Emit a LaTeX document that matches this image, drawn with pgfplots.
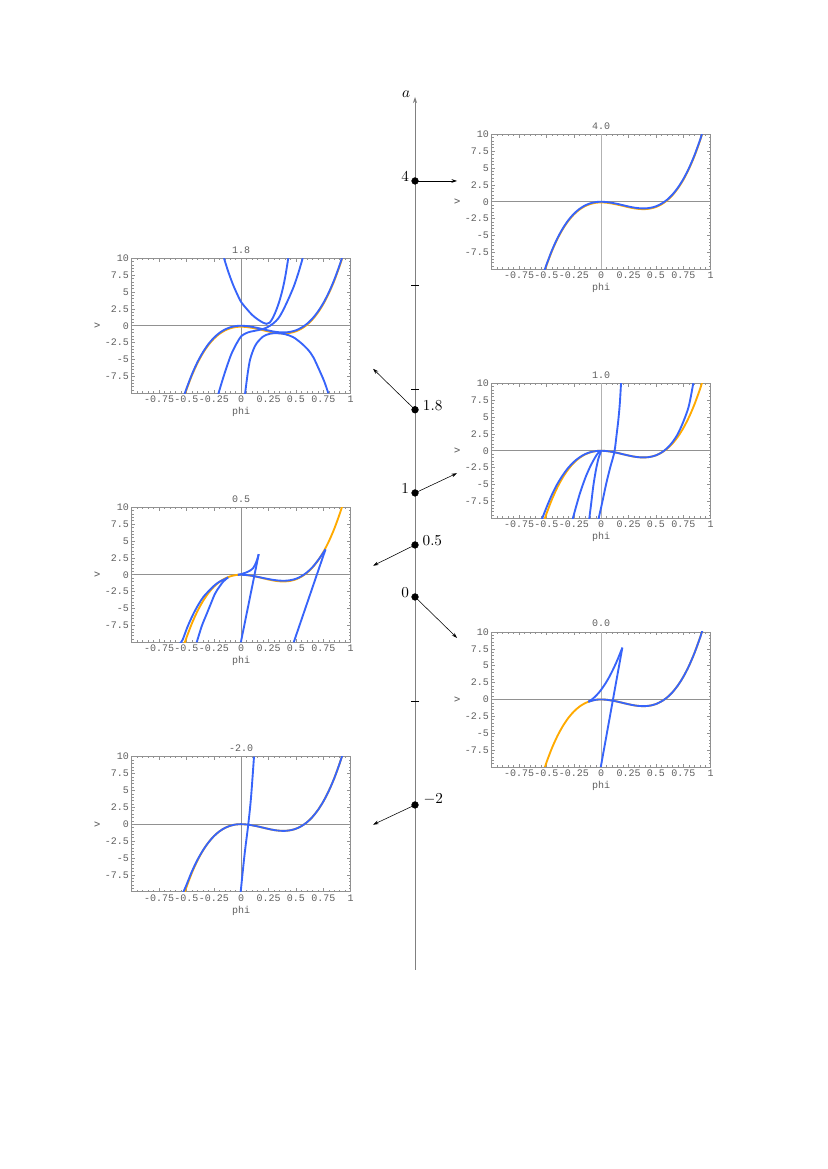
\documentclass[border=0pt]{standalone}
\usepackage{fontspec}
\setmonofont{Liberation Mono}
\usepackage{pgfplots}
\usepackage{pgfplotstable}
\pgfplotsset{compat=1.18}
\usetikzlibrary{arrows.meta}

\definecolor{mblue}{RGB}{55,100,250}
\definecolor{morange}{RGB}{255,170,0}
\definecolor{fgray}{RGB}{145,145,145}
\definecolor{lgray}{RGB}{95,95,95}

% the potential that all six panels share
\pgfplotstableread{
phi v
-0.53 -10.77
-0.50 -9.33
-0.45 -7.20
-0.40 -5.41
-0.35 -3.93
-0.30 -2.73
-0.25 -1.79
-0.20 -1.08
-0.15 -0.57
-0.10 -0.24
-0.05 -0.05
0 0
0.05 -0.05
0.10 -0.17
0.15 -0.33
0.20 -0.52
0.25 -0.71
0.30 -0.87
0.35 -0.97
0.40 -0.99
0.45 -0.90
0.50 -0.68
0.55 -0.29
0.60 0.27
0.65 1.05
0.70 2.07
0.75 3.35
0.80 4.92
0.85 6.80
0.90 9.02
0.93 10.53
}\basetbl

\tikzset{
  cb/.style={mblue, line width=1.35pt, smooth},
  co/.style={morange, line width=1.35pt, smooth},
  arr/.style={black, line width=0.4pt, -{Stealth[length=4pt,width=2.6pt]}},
  lab/.style={font=\fontsize{11}{12}\selectfont, inner sep=0pt},
}

\pgfplotsset{
  vplot/.style={
    scale only axis, width=157.6pt, height=97.2pt,
    anchor=south west,
    xmin=-1, xmax=1, ymin=-10, ymax=10,
    axis line style={fgray, line width=0.5pt},
    tick style={fgray, line width=0.35pt},
    tick align=inside,
    major tick length=2.4pt, minor tick length=1.3pt,
    xtick={-0.75,-0.5,-0.25,0,0.25,0.5,0.75,1},
    xticklabels={-0.75,-0.5,-0.25,0,0.25,0.5,0.75,1},
    ytick={-7.5,-5,-2.5,0,2.5,5,7.5,10},
    yticklabels={-7.5,-5,-2.5,0,2.5,5,7.5,10},
    minor xtick={-0.95,-0.9,...,0.96},
    minor ytick={-9.5,-9,...,9.6},
    ticklabel style={font=\fontsize{7.2}{8}\selectfont\ttfamily, text=lgray, inner sep=1.8pt},
    xlabel={phi}, ylabel={v},
    xlabel style={font=\fontsize{7.2}{8}\selectfont\ttfamily, text=lgray,
      at={(axis description cs:0.5,-0.104)}, anchor=north, inner sep=0pt},
    ylabel style={font=\fontsize{7.2}{8}\selectfont\ttfamily, text=lgray,
      at={(axis description cs:-0.158,0.5)}, anchor=center, inner sep=0pt},
    title style={font=\fontsize{7.2}{8}\selectfont\ttfamily, text=lgray,
      at={(axis description cs:0.5,1)}, anchor=base, yshift=-2.3pt, inner sep=0pt},
  },
}

\begin{document}
\begin{tikzpicture}
\path (0,0) rectangle (595.27pt,841.4pt);

% ---- a = 4.0
\begin{axis}[vplot, at={(353.93pt,647.6pt)}, title={4.0}]
\addplot[fgray, line width=0.5pt] coordinates {(-1,0) (1,0)};
\addplot[fgray!70, line width=0.6pt] coordinates {(0,-10) (0,10)};
\addplot[co, yshift=-0.5pt] table {\basetbl};
\addplot[cb] table {\basetbl};
\end{axis}

% ---- a = 1.8
\begin{axis}[vplot, at={(94.8pt,558.35pt)}, title={1.8}]
\addplot[fgray, line width=0.5pt] coordinates {(-1,0) (1,0)};
\addplot[fgray, line width=0.5pt] coordinates {(0,-10) (0,10)};
\addplot[co, yshift=-0.7pt] table {\basetbl};
\addplot[cb] table {\basetbl};
\addplot[cb] coordinates {(-0.157,10) (-0.12,8.1) (-0.08,6.3) (-0.04,4.8) (0,3.5) (0.05,2.5) (0.1,1.6) (0.15,0.95) (0.2,0.45) (0.23,0.28) (0.26,0.45) (0.29,1.2) (0.32,2.3) (0.35,3.7) (0.38,5.5) (0.405,7.5) (0.43,10)};
\addplot[cb] coordinates {(-0.209,-10.1) (-0.17,-8.0) (-0.132,-6.1) (-0.09,-4.2) (-0.041,-2.6) (0.004,-1.5) (0.06,-1.0) (0.11,-0.8) (0.17,-0.6) (0.23,-0.3) (0.29,0.3) (0.34,1.1) (0.38,2.2) (0.43,3.9) (0.48,5.8) (0.52,7.7) (0.562,10)};
\addplot[cb] coordinates {(0.035,-10.1) (0.06,-7.0) (0.08,-5.1) (0.11,-3.6) (0.141,-2.6) (0.2,-1.6) (0.26,-1.2) (0.324,-1.1) (0.4,-1.25) (0.476,-1.7) (0.55,-2.6) (0.613,-3.6) (0.66,-4.7) (0.72,-6.8) (0.76,-8.3) (0.796,-10)};
\end{axis}

% ---- a = 1.0
\begin{axis}[vplot, at={(353.93pt,468.37pt)}, title={1.0}]
\addplot[fgray, line width=0.5pt] coordinates {(-1,0) (1,0)};
\addplot[fgray!70, line width=0.6pt] coordinates {(0,-10) (0,10)};
\addplot[co] table {\basetbl};
\addplot[cb] coordinates {(-0.543,-10.2) (-0.5,-8.4) (-0.45,-6.5) (-0.4,-4.9) (-0.35,-3.6) (-0.3,-2.5) (-0.25,-1.65) (-0.2,-1.0) (-0.15,-0.52) (-0.1,-0.22) (-0.05,-0.05) (0,0) (0.05,-0.05) (0.1,-0.17) (0.15,-0.33) (0.2,-0.52) (0.25,-0.71) (0.3,-0.87) (0.35,-0.97) (0.4,-0.99) (0.45,-0.9) (0.5,-0.68) (0.55,-0.27) (0.6,0.35) (0.65,1.25) (0.7,2.5) (0.75,4.3) (0.8,6.6) (0.841,10)};
\addplot[cb] coordinates {(-0.264,-10.3) (-0.23,-8.3) (-0.2,-6.6) (-0.178,-5.5) (-0.14,-3.8) (-0.102,-2.4) (-0.07,-1.4) (-0.041,-0.6) (-0.02,-0.2) (0,0)};
\addplot[cb] coordinates {(-0.111,-10.3) (-0.09,-7.6) (-0.072,-5.2) (-0.05,-3.0) (-0.026,-1.2) (0,0)};
\addplot[cb] coordinates {(-0.026,-10.2) (0.01,-7.6) (0.044,-5.0) (0.08,-2.6) (0.12,-0.2) (0.14,2.3) (0.156,4.5) (0.17,7.0) (0.181,10)};
\end{axis}

% ---- a = 0.5
\begin{axis}[vplot, at={(94.8pt,379.12pt)}, title={0.5}]
\addplot[fgray, line width=0.5pt] coordinates {(-1,0) (1,0)};
\addplot[fgray, line width=0.5pt] coordinates {(0,-10) (0,10)};
\addplot[co] table {\basetbl};
\addplot[cb] coordinates {(-0.559,-10.2) (-0.534,-9.6) (-0.49,-7.7) (-0.437,-5.8) (-0.39,-4.4) (-0.346,-3.3) (-0.29,-2.3) (-0.239,-1.5) (-0.19,-0.95) (-0.148,-0.65) (-0.12,-0.4)};
\addplot[cb] coordinates {(-0.406,-10) (-0.36,-7.6) (-0.315,-5.8) (-0.275,-4.2) (-0.239,-2.8) (-0.2,-1.8) (-0.163,-1.0) (-0.12,-0.4)};
\addplot[cb] coordinates {(-0.03,0.0) (0,0.1) (0.04,0.3) (0.08,0.6) (0.11,1.0) (0.126,1.45) (0.145,2.2) (0.16,3.05)};
\addplot[mblue, line width=1.35pt] coordinates {(0.16,3.05) (-0.003,-10)};
\addplot[cb] coordinates {(-0.03,-0.02) (0,0) (0.05,-0.05) (0.1,-0.16) (0.15,-0.31) (0.2,-0.48) (0.25,-0.64) (0.3,-0.78) (0.35,-0.87) (0.4,-0.89) (0.45,-0.8) (0.5,-0.6) (0.55,-0.22) (0.6,0.34) (0.65,1.1) (0.7,2.1) (0.735,2.9) (0.77,3.75)};
\addplot[mblue, line width=1.35pt] coordinates {(0.77,3.75) (0.48,-10)};
\end{axis}

% ---- a = 0.0
\begin{axis}[vplot, at={(353.93pt,289.36pt)}, title={0.0}]
\addplot[fgray, line width=0.5pt] coordinates {(-1,0) (1,0)};
\addplot[fgray!70, line width=0.6pt] coordinates {(0,-10) (0,10)};
\addplot[co] table {\basetbl};
\addplot[cb] coordinates {(-0.118,-0.34) (-0.1,-0.26) (-0.05,-0.05) (0,0) (0.05,-0.05) (0.1,-0.17) (0.15,-0.33) (0.2,-0.52) (0.25,-0.71) (0.3,-0.87) (0.35,-0.97) (0.4,-0.99) (0.45,-0.9) (0.5,-0.68) (0.55,-0.29) (0.6,0.27) (0.65,1.05) (0.7,2.07) (0.75,3.35) (0.8,4.92) (0.85,6.8) (0.9,9.02) (0.93,10.53)};
\addplot[cb] coordinates {(-0.118,-0.34) (-0.088,-0.03) (-0.058,0.38) (-0.028,0.89) (0,1.45) (0.032,2.2) (0.062,3.0) (0.092,3.91) (0.122,4.91) (0.152,6.01) (0.193,7.67)};
\addplot[mblue, line width=1.35pt] coordinates {(0.193,7.67) (-0.005,-10.1)};
\end{axis}

% ---- a = -2.0
\begin{axis}[vplot, at={(94.8pt,199.6pt)}, title={-2.0}]
\addplot[fgray, line width=0.5pt] coordinates {(-1,0) (1,0)};
\addplot[fgray, line width=0.5pt] coordinates {(0,-10) (0,10)};
\addplot[co] table {\basetbl};
\addplot[cb] coordinates {(-0.535,-10.3) (-0.5,-9.0) (-0.45,-7.0) (-0.4,-5.3) (-0.35,-3.9) (-0.3,-2.73) (-0.25,-1.79) (-0.2,-1.08) (-0.15,-0.57) (-0.1,-0.24) (-0.05,-0.05) (0,0) (0.05,-0.05) (0.1,-0.17) (0.15,-0.33) (0.2,-0.52) (0.25,-0.71) (0.3,-0.87) (0.35,-0.97) (0.4,-0.99) (0.45,-0.9) (0.5,-0.68) (0.55,-0.29) (0.6,0.27) (0.65,1.05) (0.7,2.07) (0.75,3.35) (0.8,4.92) (0.85,6.8) (0.9,9.02) (0.93,10.53)};
\addplot[cb] coordinates {(-0.005,-10.1) (0.03,-4.6) (0.065,0) (0.09,4) (0.117,10)};
\end{axis}

% ---- the a axis with the six values
\begin{axis}[at={(268.49pt,143.24pt)}, anchor=south west, scale only axis,
  width=60.46pt, height=628.4pt, xmin=-1, xmax=1, ymin=-3.587, ymax=4.808,
  hide axis, clip=false]
\addplot[gray, line width=0.6pt, -{Stealth[length=4.5pt,width=3pt]}] coordinates {(0,-3.587) (0,4.808)};
\addplot[black, line width=0.4pt, only marks, mark=-, mark size=2.9pt] coordinates {(0,3) (0,2) (0,-1)};
\addplot[arr] coordinates {(0,4) (1,4)};
\addplot[arr] coordinates {(0,1.8) (-1,2.194)};
\addplot[arr] coordinates {(0,1) (1,1.19)};
\addplot[arr] coordinates {(0,0.5) (-1,0.3)};
\addplot[arr] coordinates {(0,0) (1,-0.394)};
\addplot[arr] coordinates {(0,-2) (-1,-2.19)};
\addplot[black, only marks, mark=*, mark size=2.4pt] coordinates {(0,4) (0,1.8) (0,1) (0,0.5) (0,0) (0,-2)};
\node[lab] at (axis cs:-0.214,4.83) {$a$};
\node[lab, anchor=east] at (axis cs:-0.136,4.041) {$4$};
\node[lab, anchor=west] at (axis cs:0.183,1.843) {$1.8$};
\node[lab, anchor=east] at (axis cs:-0.136,1.041) {$1$};
\node[lab, anchor=west] at (axis cs:0.175,0.545) {$0.5$};
\node[lab, anchor=east] at (axis cs:-0.136,0.043) {$0$};
\node[lab, anchor=west] at (axis cs:0.198,-1.942) {$-2$};
\end{axis}
\end{tikzpicture}
\end{document}
